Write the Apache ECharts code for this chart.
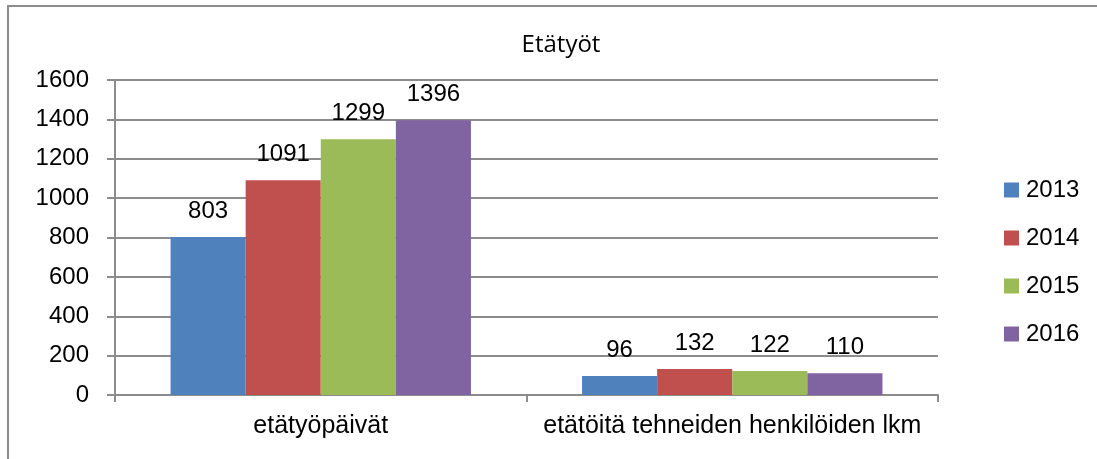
<!DOCTYPE html>
<html>
<head>
<meta charset="utf-8">
<script src="https://cdn.jsdelivr.net/npm/echarts@6/dist/echarts.min.js"></script>
<style>
  html, body { margin: 0; padding: 0; background: #fff; }
  #wrap { position: relative; width: 1097px; height: 459px; overflow: hidden; }
  #frame { position: absolute; left: 7px; top: 5px; width: 1200px; height: 500px;
    border-left: 2px solid #8c8c8c; border-top: 2px solid #8c8c8c; }
  #main { position: absolute; left: 0; top: 0; width: 1097px; height: 459px; }
</style>
</head>
<body>
<div id="wrap">
  <div id="frame"></div>
  <div id="main"></div>
</div>
<script>
const categories = ['etätyöpäivät', 'etätöitä tehneiden henkilöiden lkm']
const years = ['2013', '2014', '2015', '2016']
const values2013 = [803, 96]
const values2014 = [1091, 132]
const values2015 = [1299, 122]
const values2016 = [1396, 110]
const colors = ['#4F81BD', '#C0504D', '#9BBB59', '#8064A2']

const font = '"Liberation Sans", Arial, sans-serif'
const allValues = [values2013, values2014, values2015, values2016]

const series = years.map((y, i) => ({
  name: y,
  type: 'bar',
  barGap: '0%',
  barCategoryGap: '27%',
  itemStyle: { color: colors[i] },
  label: {
    show: true,
    position: 'top',
    distance: 14,
    color: '#000',
    fontSize: 24,
    fontFamily: font
  },
  data: allValues[i]
}))

const myChart = echarts.init(document.getElementById('main'))
myChart.setOption({
  animation: false,
  title: {
    text: 'Etätyöt',
    left: 556,
    top: 28,
    textAlign: 'center',
    textStyle: { fontSize: 24, fontWeight: 'normal', color: '#000', fontFamily: '"Open Sans", sans-serif' }
  },
  legend: {
    orient: 'vertical',
    left: 1004,
    top: 178,
    padding: 0,
    itemWidth: 15,
    itemHeight: 15,
    itemGap: 24,
    icon: 'rect',
    textStyle: { fontSize: 24, color: '#000', fontFamily: font, padding: [0, 0, 0, 2] },
    data: years
  },
  grid: { left: 115, right: 159, top: 80, bottom: 64 },
  xAxis: {
    type: 'category',
    data: categories,
    axisLine: { lineStyle: { color: '#8c8c8c', width: 2 } },
    axisTick: { show: true, length: 7, lineStyle: { color: '#8c8c8c', width: 2 } },
    axisLabel: { interval: 0, fontSize: 25, color: '#000', fontFamily: font, margin: 19 }
  },
  yAxis: {
    type: 'value',
    min: 0,
    max: 1600,
    interval: 200,
    axisLine: { show: true, lineStyle: { color: '#8c8c8c', width: 2 } },
    axisTick: { show: true, length: 8, lineStyle: { color: '#8c8c8c', width: 2 } },
    splitLine: { lineStyle: { color: '#8c8c8c', width: 2 } },
    axisLabel: { fontSize: 24, color: '#000', fontFamily: font, margin: 26, formatter: v => String(v) }
  },
  series: series
})
</script>
</body>
</html>
